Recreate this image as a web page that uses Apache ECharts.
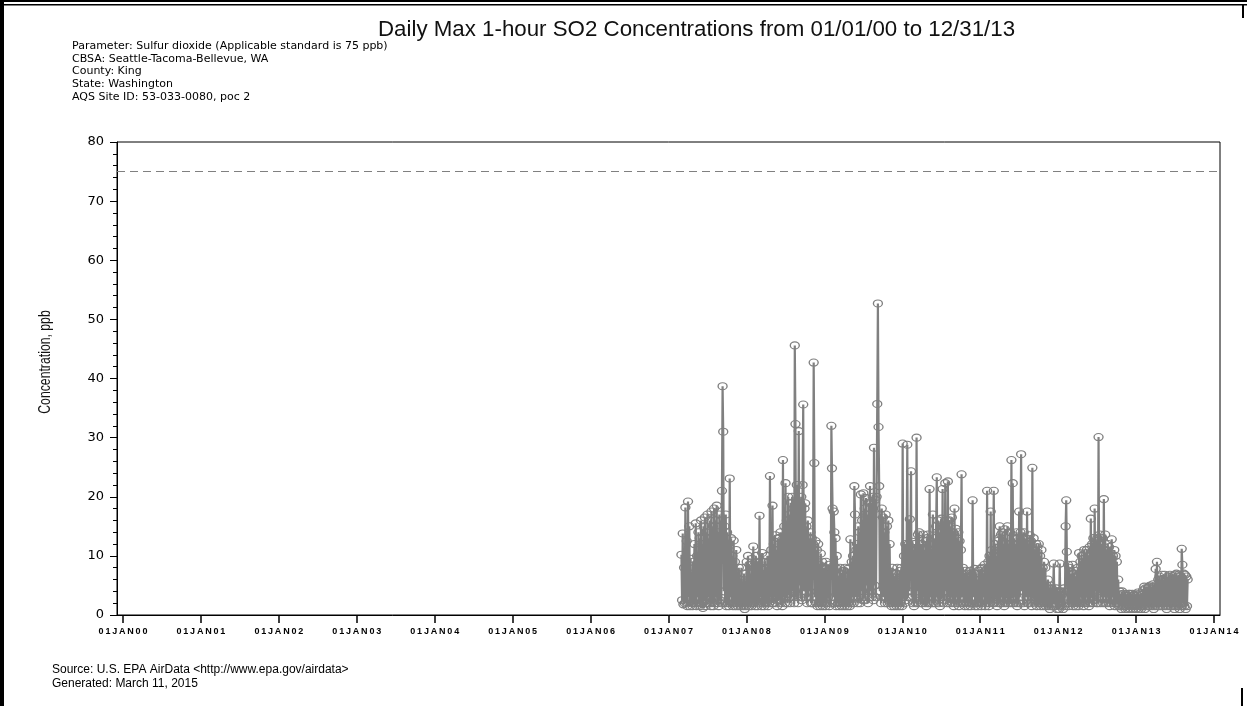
<!DOCTYPE html>
<html lang="en">
<head>
    <meta charset="UTF-8">
    <title>Daily Max 1-hour SO2</title>
    <style>
        html, body {margin: 0; padding: 0; background: #fff;}
        #demo {width: 1247px; height: 706px;}
    </style>
</head>
<body>
<div id="demo"></div>
<script type="text/javascript" src="https://cdn.jsdelivr.net/npm/echarts@6/dist/echarts.min.js"></script>
<script type="text/javascript">
// readings per month (ppb), ten per month
var startMonth = {2007: 3, 2008: 1, 2009: 1, 2010: 1, 2011: 1, 2012: 1, 2013: 1};
var so2_2007 = [
    [10.2, 2.5, 13.8, 1.8, 8, 2, 18.2, 2.2, 12.5, 1.5],
    [19.2, 3, 15, 1.5, 9.5, 2, 7, 1.5, 9, 2],
    [12, 2, 15.5, 1.5, 10, 3, 14, 2, 13, 1.5],
    [16, 2, 12, 1.2, 15, 2.5, 16.5, 1.5, 14, 2],
    [17, 3, 13, 2, 16, 1.5, 17.5, 2, 15, 1.5],
    [18, 2, 16, 3, 18.5, 2, 14, 1.5, 17, 2.5],
    [16, 2, 21, 38.7, 31, 4, 15, 2, 17, 1.5],
    [14, 2, 12, 1.5, 23.1, 3, 13, 2, 10, 1.5],
    [12.6, 2, 9, 1.5, 11, 2, 7, 1.5, 8, 2],
    [6, 1.5, 8, 2, 5, 1.5, 7, 1, 5.5, 1.5]
];
var so2_2008 = [
    [9, 2, 10, 1.5, 8.5, 2, 7, 1.5, 9.5, 2],
    [11.6, 2, 8, 1.5, 10, 2.5, 9, 1.5, 8.5, 2],
    [16.8, 3, 9, 1.5, 10.5, 2, 7.6, 1.5, 9, 2],
    [8, 2, 10, 1.5, 9, 2, 23.5, 3, 11, 2],
    [18.5, 2, 12, 3, 13.5, 2, 11, 1.5, 13, 2.5],
    [13, 2.5, 14, 2, 12, 1.5, 26.2, 3, 15, 2],
    [22.3, 3, 16, 2, 20, 3.5, 17, 2, 19, 3],
    [20, 4, 18, 2, 45.6, 32.3, 3, 22, 17, 2],
    [31.1, 5, 19, 3, 20, 2.5, 22, 35.6, 4, 18],
    [18.9, 3, 15, 2, 16, 3, 13, 4, 14, 2],
    [13, 2, 12, 42.7, 25.7, 3, 12.5, 2, 11, 1.5],
    [12, 2, 8.5, 1.5, 10.4, 2, 9, 1.5, 8, 2]
];
var so2_2009 = [
    [8, 1.5, 9, 2, 7.5, 3, 8.5, 1.5, 7, 2],
    [32, 24.8, 18, 3, 17.5, 14, 2, 13, 1.5, 10],
    [7.8, 2, 6.5, 1.5, 8, 2, 7, 1.5, 7.5, 2],
    [7.5, 1.5, 8, 2, 6, 1.5, 7.8, 2, 6.5, 1.5],
    [12.8, 2, 9, 3, 10, 2, 21.8, 17, 3, 11],
    [12, 2, 15, 3, 14, 2, 20.4, 4, 16, 2.5],
    [20.6, 3, 18, 2.5, 19.8, 5, 17, 2, 19, 3],
    [21.8, 4, 19, 3, 20, 2.5, 28.3, 5, 19.5, 3],
    [20, 35.7, 52.7, 31.8, 21.8, 4, 17, 2, 18, 3],
    [16.5, 3, 14, 2, 17, 3, 15, 2, 16, 2.5],
    [12, 2, 7.3, 1.5, 8, 2, 7, 1.5, 6.5, 2],
    [7, 1.5, 8, 2, 6, 1.5, 7.5, 2, 8, 1.5]
];
var so2_2010 = [
    [29, 3, 10, 2, 12, 2.5, 11, 28.8, 3, 12],
    [4, 16.2, 11, 24.3, 3, 12.4, 2, 11, 1.5, 12],
    [12, 2, 30, 4, 13.6, 2, 14, 2.5, 12, 2],
    [12, 2, 13.6, 3, 11, 2, 12.5, 1.5, 13, 2],
    [13.6, 2, 21.3, 3, 10, 2, 12, 17, 2, 13],
    [12, 2, 15, 23.3, 3, 16, 2, 14, 1.5, 15],
    [16.3, 3, 21.3, 2, 15, 2.5, 22.3, 4, 16, 2],
    [22.6, 3, 16, 2, 15, 3, 16.5, 2, 14, 1.5],
    [18, 2, 14.6, 3, 13, 2, 14, 1.5, 12.5, 2],
    [11, 23.8, 3, 8, 2, 7, 1.5, 7.5, 2, 6.5],
    [7, 1.5, 6.5, 2, 7.5, 1.5, 7, 2, 19.4, 3],
    [3, 7.8, 1.5, 7, 2, 6, 1.5, 7.5, 2, 6]
];
var so2_2011 = [
    [7.8, 1.5, 8, 2, 7, 3, 8.5, 1.5, 7.5, 2],
    [21, 2, 9, 1.5, 10, 2, 17.5, 3, 11, 2],
    [10, 21, 2, 12, 3, 10, 1.5, 12.5, 2, 13],
    [15, 2, 13.6, 3, 14, 2, 12, 1.5, 14.5, 2],
    [13, 3, 15, 2, 12, 2.5, 14, 2, 26.2, 3],
    [22.3, 2, 13, 3, 12, 2, 14, 1.5, 13, 2],
    [17.5, 3, 14, 27.2, 4, 13, 2, 14, 1.5, 12],
    [13, 3, 17.5, 2, 12, 3, 13.5, 2, 12.5, 1.5],
    [24.9, 3, 13, 2, 11, 2.5, 12, 1.5, 11.5, 2],
    [12, 2, 10, 1.5, 11, 2, 8, 1.5, 9, 2],
    [8, 1.5, 5, 2, 6, 1.5, 4.5, 1, 5, 1.5],
    [4.5, 1.5, 4, 8.7, 2, 4, 1.5, 4.5, 1, 4]
];
var so2_2012 = [
    [4, 1, 8.7, 2, 4, 1.5, 3.5, 1, 4.5, 1.5],
    [4, 15, 19.4, 10.7, 2, 8.5, 1.5, 8, 2, 7],
    [7.3, 2, 8.5, 1.5, 7, 2, 6.5, 1.5, 7.5, 2],
    [8, 1.5, 10.5, 2, 9, 3, 10, 2, 9.5, 1.5],
    [11, 2, 10.5, 3, 11, 2, 10, 1.5, 11.5, 2],
    [16.3, 3, 12, 2, 13, 2.5, 18, 4, 12.5, 2],
    [13, 2, 30.1, 4, 13.6, 2, 12, 3, 13, 2],
    [19.6, 3, 13.6, 2, 11, 3, 12, 2, 11.5, 1.5],
    [10.5, 2, 12.8, 3, 10, 2, 11, 1.5, 10, 2],
    [9, 2, 6, 1.5, 4, 1.5, 3.5, 1, 4, 1.5],
    [3.6, 1.5, 3, 1, 3.5, 1.5, 3.2, 1, 3.6, 1.5],
    [3.6, 1, 3.2, 1.5, 3.6, 1, 3.4, 1.5, 3.2, 1]
];
var so2_2013 = [
    [3.5, 1.5, 3.8, 1, 3, 1.5, 3.6, 1, 3.4, 1.5],
    [4.2, 1.5, 4.8, 1, 4.5, 2, 4, 1.5, 4.6, 1.5],
    [4.8, 1.5, 5, 2, 4.5, 1.5, 5.2, 1, 4.8, 1.5],
    [7.8, 2, 9, 1.5, 6, 2, 6.5, 1.5, 6, 2],
    [6.8, 1.5, 6, 2, 6.8, 1.5, 6.2, 1, 6.5, 1.5],
    [6.5, 2, 6.8, 1.5, 6, 2, 6.6, 1.5, 6.2, 1],
    [6.8, 1.5, 7, 2, 6.5, 1.5, 6.8, 1, 6.6, 1.5],
    [11.2, 8.5, 2, 7, 1.5, 6.8, 1, 6.5, 1.5, 6]
];
var standard = 75;
var yearTicks = [2000, 2014];
var years = {2007: so2_2007, 2008: so2_2008, 2009: so2_2009, 2010: so2_2010, 2011: so2_2011, 2012: so2_2012, 2013: so2_2013};

var points = [];
for (var y = 2007; y <= 2013; y++) {
    var rows = years[y];
    for (var m = 0; m < rows.length; m++) {
        var mon = startMonth[y] - 1 + m;
        var t0 = Date.UTC(y, mon, 1);
        var t1 = Date.UTC(y, mon + 1, 1);
        var vals = rows[m];
        for (var i = 0; i < vals.length; i++) {
            points.push([t0 + (i + 0.5) / vals.length * (t1 - t0), vals[i]]);
        }
    }
}

var myChart = echarts.init(document.getElementById('demo'));
var font = '"Liberation Sans", Arial, sans-serif';
var lines = [
    'Parameter: Sulfur dioxide (Applicable standard is 75 ppb)',
    'CBSA: Seattle-Tacoma-Bellevue, WA',
    'County: King',
    'State: Washington',
    'AQS Site ID: 53-033-0080, poc 2'
];
var graphics = [
    {type: 'rect', shape: {x: 0, y: 0, width: 1247, height: 2}, style: {fill: '#000'}},
    {type: 'rect', shape: {x: 0, y: 4, width: 1247, height: 1.5}, style: {fill: '#000'}},
    {type: 'rect', shape: {x: 0, y: 0, width: 4, height: 706}, style: {fill: '#000'}},
    {type: 'rect', shape: {x: 1242, y: 4, width: 2, height: 14}, style: {fill: '#000'}},
    {type: 'rect', shape: {x: 1241, y: 688, width: 2, height: 18}, style: {fill: '#000'}},
    {type: 'text', x: 378, y: 19, style: {text: 'Daily Max 1-hour SO2 Concentrations from 01/01/00 to 12/31/13', font: '22.3px ' + font, fill: '#111'}},
    {type: 'text', x: 45, y: 362, rotation: Math.PI / 2, scaleX: 0.72, style: {text: 'Concentration, ppb', font: '17px ' + font, fill: '#111', align: 'center', verticalAlign: 'middle'}},
    {type: 'text', x: 52, y: 664, style: {text: 'Source: U.S. EPA AirData <http://www.epa.gov/airdata>', font: '12px ' + font, fill: '#000'}},
    {type: 'text', x: 52, y: 678, style: {text: 'Generated: March 11, 2015', font: '12px ' + font, fill: '#000'}}
];
for (var k = 0; k < lines.length; k++) {
    graphics.push({type: 'text', x: 72, y: 40.5 + k * 12.8, style: {text: lines[k], font: '11px "DejaVu Sans", sans-serif', fill: '#000'}});
}

option = {
    animation: false,
    graphic: graphics,
    grid: [
        {left: 117, right: 27, top: 142, bottom: 91, show: true, borderColor: '#000', borderWidth: 1},
        {left: 123, right: 33, top: 142, bottom: 91}
    ],
    xAxis: [
        {
            type: 'time',
            gridIndex: 0,
            min: Date.UTC(1999, 11, 4),
            max: Date.UTC(2014, 0, 29),
            axisLine: {lineStyle: {color: '#000', width: 1}},
            axisTick: {show: false},
            axisLabel: {show: false},
            splitLine: {show: false}
        },
        {
            type: 'value',
            gridIndex: 1,
            min: yearTicks[0],
            max: yearTicks[1],
            interval: 1,
            axisLine: {show: false},
            axisTick: {show: true, length: 8, lineStyle: {color: '#000', width: 1.5}},
            axisLabel: {
                margin: 12,
                color: '#000',
                fontSize: 9,
                fontWeight: 'bold',
                fontFamily: '"Liberation Sans", Arial, sans-serif',
                formatter: function (v) {
                    return ('01JAN' + String(v).slice(2)).split('').join('\u2009');
                }
            },
            splitLine: {show: false}
        }
    ],
    yAxis: [
        {
            type: 'value',
            gridIndex: 0,
            min: 0,
            max: 80,
            interval: 10,
            axisLine: {show: true, lineStyle: {color: '#000', width: 1}},
            axisTick: {show: true, length: 7, lineStyle: {color: '#000'}},
            minorTick: {show: true, splitNumber: 5, length: 4, lineStyle: {color: '#000'}},
            axisLabel: {margin: 13, color: '#000', fontSize: 13, fontFamily: '"DejaVu Sans", sans-serif'},
            splitLine: {show: false}
        },
        {type: 'value', gridIndex: 1, show: false, min: 0, max: 80}
    ],
    series: [
        {
            name: 'SO2',
            type: 'line',
            xAxisIndex: 0,
            yAxisIndex: 0,
            data: points,
            symbol: 'circle',
            symbolSize: [9, 7],
            showSymbol: true,
            showAllSymbol: true,
            lineStyle: {color: '#808080', width: 2.2},
            itemStyle: {color: 'rgba(0,0,0,0)', borderColor: '#808080', borderWidth: 1.2},
            emphasis: {disabled: true},
            markLine: {
                silent: true,
                symbol: 'none',
                label: {show: false},
                lineStyle: {color: '#808080', type: [8, 5], width: 1},
                data: [{yAxis: standard}]
            }
        }
    ]
};
myChart.setOption(option);
</script>
</body>
</html>
